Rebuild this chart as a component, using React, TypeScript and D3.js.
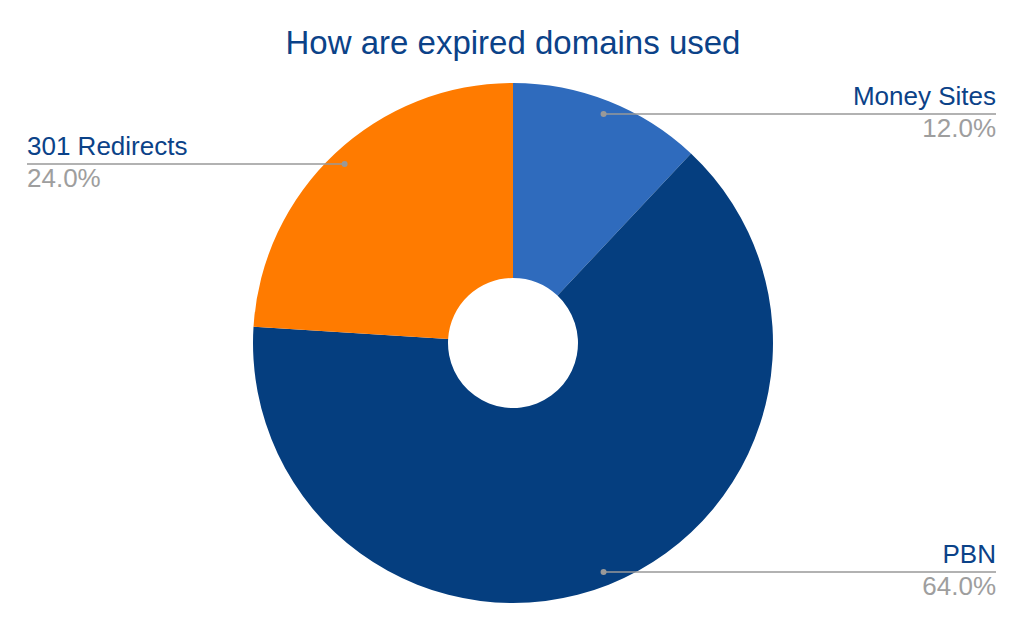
import React from 'react';
import * as d3 from 'd3';

const categories = ['Money Sites', 'PBN', '301 Redirects'];
const values = [12, 64, 24];
const colors = ['#2f6bbd', '#053e7f', '#ff7b00'];

const width = 1024;
const height = 630;
const cx = 513;
const cy = 343;
const outerR = 260;
const innerR = 65;
const anchorR = 246;
const font = '"Liberation Sans", Arial, sans-serif';

type Slice = { name: string; value: number; color: string };

const App: React.FC = () => {
  const data: Slice[] = categories.map((name, i) => ({ name, value: values[i], color: colors[i] }));
  const total = d3.sum(values);

  const pie = d3.pie<Slice>().sort(null).value(d => d.value);
  const arcs = pie(data);
  const arc = d3.arc<d3.PieArcDatum<Slice>>().innerRadius(innerR).outerRadius(outerR);
  const anchorArc = d3.arc<d3.PieArcDatum<Slice>>().innerRadius(anchorR).outerRadius(anchorR);
  const fmt = d3.format('.1f');

  return (
    <svg width={width} height={height} style={{ position: 'absolute', left: 0, top: 0 }}>
      <rect width={width} height={height} fill="#ffffff" />
      <text x={cx} y={54} textAnchor="middle" fontFamily={font} fontSize={33} fill="#0b4288">
        How are expired domains used
      </text>
      <g transform={`translate(${cx},${cy})`}>
        {arcs.map(a => (
          <path key={a.data.name} d={arc(a) || ''} fill={a.data.color} />
        ))}
      </g>
      {arcs.map(a => {
        const [ax, ay] = anchorArc.centroid(a);
        const px = cx + ax;
        const py = Math.round(cy + ay);
        const right = px >= cx;
        const edge = right ? 996 : 27;
        const anchor = right ? 'end' : 'start';
        return (
          <g key={a.data.name}>
            <line x1={px} y1={py} x2={edge} y2={py} stroke="#999999" strokeWidth={1.5} />
            <circle cx={px} cy={py} r={3} fill="#999999" />
            <text x={edge} y={py - 9} textAnchor={anchor} fontFamily={font} fontSize={26} fill="#0b4288">
              {a.data.name}
            </text>
            <text x={edge} y={py + 23} textAnchor={anchor} fontFamily={font} fontSize={26} fill="#9e9e9e">
              {fmt((a.data.value / total) * 100)}%
            </text>
          </g>
        );
      })}
    </svg>
  );
};

export default App;
